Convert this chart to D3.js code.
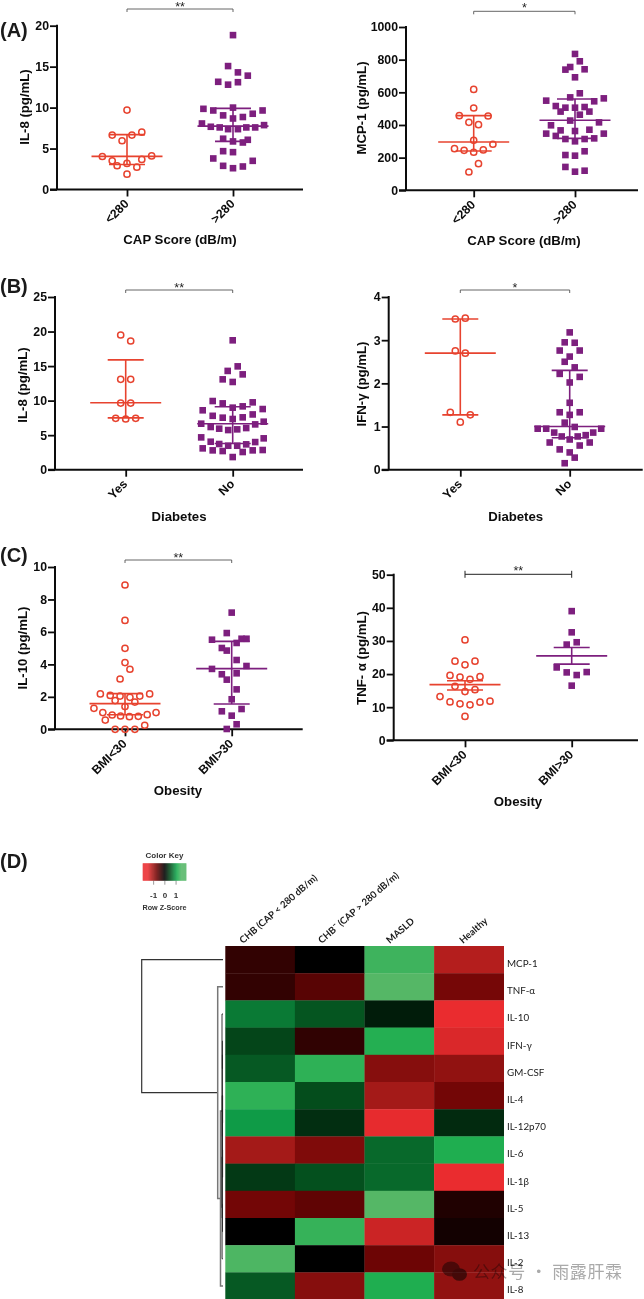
<!DOCTYPE html>
<html><head><meta charset="utf-8">
<script src="https://cdn.jsdelivr.net/npm/d3@7/dist/d3.min.js"></script>
<style>
html,body{margin:0;padding:0;background:#fff;overflow:hidden}
svg{display:block}
text{font-family:"Liberation Sans",Arial,sans-serif}
</style></head><body>
<svg id="c" width="644" height="1299"></svg>
<script>
// ---- Scatter data: measured values and swarm rank (column position within a group) ----
const capLabels=["<280",">280"], diabetesLabels=["Yes","No"], obesityLabels=["BMI<30","BMI>30"];

const il8CapLow=[9.7,6.64,6.64,7.0,5.95,4.03,4.1,3.5,3.67,3.18,2.9,2.73,1.87];
const il8CapLowRank=[0,-3,1,3,-1,-5,5,-3,3,0,-2,2,0];
const il8CapHigh=[18.85,15.07,14.3,13.9,13.15,13.1,12.8,10.0,9.85,9.65,9.65,9.25,9.05,8.85,8.67,8.06,7.86,7.66,7.58,7.37,7.37,7.58,7.58,6.2,6.07,5.87,5.74,4.68,4.56,3.79,3.5,2.89,2.81,2.6];
const il8CapHighRank=[0,-1,1,3,-3,1,-1,0,-6,-4,6,4,-2,2,0,-6.3,6.3,-4.5,-2.7,-1,1,2.7,4.5,-2,3,0,2,-2,0,-4,4,-2,2,0];
const il8CapLowStats=[3.05,4.05,6.7], il8CapHighStats=[5.87,7.74,9.9];

const mcpCapLow=[618,504,457,455,416,402,306,282,255,245,233,247,163,112];
const mcpCapLowRank=[0,0,-3,3,-1,1,0,4,-4,-2,0,2,1,-1];
const mcpCapHigh=[835,790,755,739,741,692,594,569,563,549,545,516,510,506,506,482,482,463,427,416,398,367,371,363,347,347,333,314,314,318,300,216,212,239,143,120,114];
const mcpCapHighRank=[0,1,-1,-2,2,0,1,-1,6,-6,4,-4,2,-2,0,-3,3,1,-1,5,-5,-3,3,0,-6,6,-4,-2,2,4,0,-2,0,2,-2,2,0];
const mcpCapLowStats=[241,296,457], mcpCapHighStats=[318,429,559];

const il8DiaYes=[19.5,18.63,13.08,13.08,9.65,9.65,7.43,7.34,7.43];
const il8DiaYesRank=[-1,1,-1,1,-1,1,-2,0,2];
const il8DiaNo=[18.73,14.96,14.3,13.8,13.08,12.7,9.94,9.6,9.75,8.6,8.78,8.98,9.17,7.8,7.53,7.34,7.58,8.0,6.66,6.95,6.18,5.94,5.74,5.84,6.03,6.56,4.68,4.54,4.05,4.0,3.72,3.47,3.47,3.67,3.09,2.8,2.7,2.56,2.8,2.85,1.83];
const il8DiaNoRank=[0,1,-1,2,-2,0,-4,-2,4,-6,6,0,2,-4,-2,0,2,4,-6.3,6.2,-4.4,-2.7,-0.9,0.9,2.7,4.5,-6.3,6.2,-4.4,4.5,-2.7,-0.9,0.9,2.7,-6,-4,-2,2,4,6,0];
const il8DiaYesStats=[7.5,9.7,15.9], il8DiaNoStats=[3.8,6.66,9.12];

const ifnDiaYes=[3.49,3.51,2.75,2.7,1.33,1.27,1.10];
const ifnDiaYesRank=[-1,1,-1,1,-2,2,0];
const ifnDiaNo=[3.18,2.95,2.94,2.76,2.76,2.62,2.5,2.37,2.22,2.15,2.02,1.55,1.33,1.33,1.27,1.09,0.99,0.95,0.95,0.95,0.86,0.86,0.8,0.77,0.77,0.7,0.63,0.63,0.56,0.47,0.4,0.28,0.15];
const ifnDiaNoRank=[0,-1,1,-2,2,0,-1,1,-2,2,0,0,-2,2,0,-1,1,-6.4,-4.7,6.3,4.7,-3.1,3.2,-1.6,1.6,0,-4,4,2,-2,0,1,-1];
const ifnDiaYesStats=[1.27,2.7,3.49], ifnDiaNoStats=[0.74,1.0,2.3];

const il10BmiLow=[8.89,6.71,4.99,4.11,3.7,3.1,2.18,2.18,2.09,2.05,1.97,2.05,1.77,1.68,1.4,1.29,1.03,1.03,0.88,0.9,0.82,0.78,0.8,0.57,0.25,0,0,0];
const il10BmiLowRank=[0,0,0,0,1,-1,-5,5,-3,-1,1,3,-2,2,0,-6.3,-4.5,6.3,-2.6,4.5,-0.9,0.9,2.7,-4,4,-2,0,2];
const il10BmiHigh=[7.19,5.93,5.52,5.58,5.58,5.32,5.01,4.85,4.27,3.9,3.72,3.39,3.45,3.06,2.46,1.85,1.25,1.11,0.84,0.31,0.02];
const il10BmiHighRank=[0,-1,-4,2,3,1,-2,-1,1,3,-4,-2,1,-1,1,0,2,-2,0,1,-1];
const il10BmiLowStats=[0.9,1.58,2.2], il10BmiHighStats=[1.56,3.74,5.42];

const tnfBmiLow=[30.3,23.9,23.9,22.8,19.6,19.1,19.2,18.4,16.3,14.7,15.3,13.2,11.6,11,10.7,11.5,11.8,7.2];
const tnfBmiLowRank=[0,-2,2,0,-3,-1,3,1,-2,0,2,-5,-3,-1,1,3,5,0];
const tnfBmiHigh=[39,32.6,28.9,29.6,22,20.5,19.7,20.6,16.5];
const tnfBmiHighRank=[0,0,-1,1,-3,-1,1,3,0];
const tnfBmiLowStats=[15.2,16.8,18], tnfBmiHighStats=[23,25.5,28];

// ---- Heatmap data ----
const heatColumns=["CHB (CAP < 280 dB/m)","CHB¯ (CAP > 280 dB/m)","MASLD","Healthy"];
const heatRows=["MCP-1","TNF-α","IL-10","IFN-γ","GM-CSF","IL-4","IL-12p70","IL-6","IL-1β","IL-5","IL-13","IL-2","IL-8"];
const heatZ=[
 [-0.31,0,1.35,-1.15],
 [-0.31,-0.55,1.5,-0.74],
 [0.79,0.55,0.18,-1.5],
 [0.45,-0.3,1.18,-1.4],
 [0.58,1.25,-0.85,-0.92],
 [1.25,0.5,-1.05,-0.72],
 [1.0,0.3,-1.48,0.27],
 [-1.05,-0.8,0.68,1.15],
 [0.37,0.52,0.68,-1.5],
 [-0.72,-0.6,1.5,-0.2],
 [0,1.3,-1.3,-0.12],
 [1.45,0,-0.68,-0.85],
 [0.58,-0.85,1.15,-0.92]];
const keyTicks=[-1,0,1];
// Row dendrogram: nested leaf names with merge heights
const rowTree={h:81.3,children:[{leaf:"MCP-1"},{h:5.3,children:[{leaf:"TNF-α"},{h:2.5,children:[{h:1,children:[{leaf:"IL-10"},{h:0.9,children:[{h:0.8,children:[
  {h:0.6,children:[{h:0.6,children:[{leaf:"IFN-γ"},{leaf:"GM-CSF"}]},{h:0.55,children:[{h:0.4,children:[{leaf:"IL-4"},{leaf:"IL-12p70"}]},{h:0.4,children:[{leaf:"IL-6"},{leaf:"IL-1β"}]}]}]},
  {h:0.5,children:[{leaf:"IL-5"},{leaf:"IL-13"}]}]},{leaf:"IL-2"}]}]},{leaf:"IL-8"}]}]}]};

// ---- Drawing ----
const RED="#e7432f", PUR="#7d1f7e", INK="#0c0c0c";
const svg=d3.select("#c");

const panels=[
 {x0:57,xEnd:303,yTop:25.7,yBot:189.5,cx:[127,233],max:20,tick:5,step:4.93,cats:capLabels,
  a:[il8CapLow,il8CapLowRank,il8CapLowStats],b:[il8CapHigh,il8CapHighRank,il8CapHighStats],
  yTitle:"IL-8 (pg/mL)",yTx:24,yTy:107,xTitle:"CAP Score (dB/m)",xTx:180,xTy:243.5,
  sig:"**",sigY:9,sigTick:3,sigStroke:"#555",starY:10.5},
 {x0:406,xEnd:638,yTop:27,yBot:190.3,cx:[473.7,575],max:1000,tick:200,step:4.8,cats:capLabels,
  a:[mcpCapLow,mcpCapLowRank,mcpCapLowStats],b:[mcpCapHigh,mcpCapHighRank,mcpCapHighStats],
  yTitle:"MCP-1 (pg/mL)",yTx:361,yTy:108,xTitle:"CAP Score (dB/m)",xTx:524,xTy:244.5,
  sig:"*",sigY:11.3,sigTick:3,sigStroke:"#555",starY:12},
 {x0:55,xEnd:303,yTop:297,yBot:469.7,cx:[125.7,232.7],max:25,tick:5,step:5,cats:diabetesLabels,
  a:[il8DiaYes,il8DiaYesRank,il8DiaYesStats],b:[il8DiaNo,il8DiaNoRank,il8DiaNoStats],
  yTitle:"IL-8 (pg/mL)",yTx:22,yTy:385,xTitle:"Diabetes",xTx:179,xTy:520.5,
  sig:"**",sigY:290,sigTick:3,sigStroke:"#555",starY:292},
 {x0:388.7,xEnd:642.7,yTop:297,yBot:469.7,cx:[460.3,569.7],max:4,tick:1,step:5,cats:diabetesLabels,
  a:[ifnDiaYes,ifnDiaYesRank,ifnDiaYesStats],b:[ifnDiaNo,ifnDiaNoRank,ifnDiaNoStats],
  yTitle:"IFN-γ (pg/mL)",yTx:361,yTy:384,xTitle:"Diabetes",xTx:515.7,xTy:520.5,
  sig:"*",sigY:290,sigTick:3,sigStroke:"#555",starY:292},
 {x0:55,xEnd:302.7,yTop:567,yBot:729.3,cx:[125,231.7],max:10,tick:2,step:4.93,cats:obesityLabels,
  a:[il10BmiLow,il10BmiLowRank,il10BmiLowStats],b:[il10BmiHigh,il10BmiHighRank,il10BmiHighStats],
  yTitle:"IL-10 (pg/mL)",yTx:22,yTy:648,xTitle:"Obesity",xTx:178,xTy:794.5,
  sig:"**",sigY:560,sigTick:3,sigStroke:"#555",starY:562},
 {x0:393.7,xEnd:638,yTop:574.7,yBot:740.3,cx:[465,571.7],max:50,tick:10,step:5,cats:obesityLabels,
  a:[tnfBmiLow,tnfBmiLowRank,tnfBmiLowStats],b:[tnfBmiHigh,tnfBmiHighRank,tnfBmiHighStats],
  yTitle:"TNF- α (pg/mL)",yTx:361,yTy:658,xTitle:"Obesity",xTx:518,xTy:806,
  sig:"**",sigY:574.3,sigTick:3.5,sigStroke:"#222",starY:575,sym:true}
];

panels.forEach(p=>{
  const g=svg.append("g");
  const y=d3.scaleLinear().domain([0,p.max]).range([p.yBot,p.yTop]);
  const x=d3.scaleOrdinal().domain(p.cats).range(p.cx);
  const rank=d3.scaleLinear().domain([0,1]).range([0,p.step]);

  // axes
  const yAxis=d3.axisLeft(y).tickValues(d3.range(0,p.max+1e-9,p.tick)).tickSize(7).tickPadding(1).tickSizeOuter(0).tickFormat(d3.format("d"));
  const ay=g.append("g").attr("transform",`translate(${p.x0},0)`).call(yAxis);
  const xAxis=d3.axisBottom(x).tickSize(7).tickSizeOuter(0);
  const ax=g.append("g").attr("transform",`translate(0,${p.yBot})`).call(xAxis);
  ax.select(".domain").attr("d",`M${p.x0-7},0H${p.xEnd}`);
  ay.select(".domain").attr("d",`M0,${p.yTop-1}V${p.yBot}`);
  [ax,ay].forEach(a=>{
    a.selectAll(".domain").attr("stroke",INK).attr("stroke-width",2).attr("fill","none");
    a.selectAll(".tick line").attr("stroke",INK).attr("stroke-width",1.8);
    a.selectAll("text").attr("fill",INK).attr("font-size",12.3).attr("font-weight",700)
      .style("font-family",'"Liberation Sans",Arial,sans-serif');
  });
  ax.selectAll(".tick text").attr("text-anchor","end").attr("dy",0).attr("y",0)
    .attr("transform","translate(2,15) rotate(-45)");

  // titles
  g.append("text").attr("x",p.xTx).attr("y",p.xTy).attr("text-anchor","middle")
   .attr("font-size",13.2).attr("font-weight",700).attr("fill",INK).text(p.xTitle);
  g.append("text").attr("transform",`translate(${p.yTx+4.5},${p.yTy}) rotate(-90)`).attr("text-anchor","middle")
   .attr("font-size",13.2).attr("font-weight",700).attr("fill",INK).text(p.yTitle);

  // significance bracket
  const [c0,c1]=p.cx, t=p.sigTick;
  const br=p.sym?`M${c0},${p.sigY-t}V${p.sigY+t}M${c0},${p.sigY}H${c1}M${c1},${p.sigY-t}V${p.sigY+t}`
                :`M${c0},${p.sigY+t}V${p.sigY}H${c1}V${p.sigY+t}`;
  g.append("path").attr("d",br).attr("fill","none").attr("stroke",p.sigStroke).attr("stroke-width",p.sym?1:0.9);
  g.append("text").attr("x",(c0+c1)/2).attr("y",p.starY).attr("text-anchor","middle")
   .attr("font-size",12.5).attr("font-weight",400).attr("fill","#222").text(p.sig);

  // groups
  [p.a,p.b].forEach((grp,gi)=>{
    const [vals,ranks,stats]=grp, color=gi?PUR:RED, cx=x(p.cats[gi]);
    const el=g.append("g").attr("stroke",color).attr("stroke-width",1.6).attr("fill","none");
    el.append("line").attr("x1",cx).attr("x2",cx).attr("y1",y(stats[0])).attr("y2",y(stats[2]));
    [[stats[1],35.5],[stats[0],18],[stats[2],18]].forEach(([v,hw])=>{
      el.append("line").attr("x1",cx-hw).attr("x2",cx+hw).attr("y1",y(v)).attr("y2",y(v));
    });
    const pts=vals.map((v,i)=>({v,r:ranks[i]}));
    if(gi===0){
      g.append("g").selectAll("circle").data(pts).join("circle")
       .attr("cx",d=>cx+rank(d.r)).attr("cy",d=>y(d.v)).attr("r",3.1)
       .attr("fill","none").attr("stroke",color).attr("stroke-width",1.5);
    }else{
      g.append("g").selectAll("rect").data(pts).join("rect")
       .attr("x",d=>cx+rank(d.r)-3.3).attr("y",d=>y(d.v)-3.3).attr("width",6.6).attr("height",6.6)
       .attr("fill",color);
    }
  });
});

// panel letters
[["(A)",37],["(B)",293],["(C)",562],["(D)",868]].forEach(([t,yy])=>{
  svg.append("text").attr("x",0).attr("y",yy).attr("font-size",20).attr("font-weight",700).attr("fill","#1a1a1a").text(t);
});

// ---- Heatmap ----
const hm=svg.append("g");
const HX=225.3,HR=503.7,HT=946,HB=1299.6;
const colX=d3.scaleBand().domain(heatColumns).range([HX,HR]);
const rowY=d3.scaleBand().domain(heatRows).range([HT,HB]);
const zColor=d3.scaleLinear().domain([-1.5,-1.05,-0.7,0,0.5,1,1.15,1.5])
  .range(["#ea2c2f","#a41a18","#700505","#000000","#044d1c","#0f9b47","#1fae50","#55b766"]).clamp(true);
heatRows.forEach((r,i)=>heatColumns.forEach((c,j)=>{
  hm.append("rect").attr("x",colX(c)).attr("y",rowY(r)).attr("width",colX.bandwidth()+0.3).attr("height",rowY.bandwidth()+0.3)
    .attr("fill",zColor(heatZ[i][j]));
}));
const hFont='Lato,"Open Sans",sans-serif';
heatRows.forEach(r=>{
  hm.append("text").attr("x",507).attr("y",rowY(r)+rowY.bandwidth()/2+7.3).attr("font-size",9.8)
    .style("font-family",hFont).attr("fill","#1a1a1a").text(r);
});
const colLabelShift=[-17,-8,-9.5,-6];
heatColumns.forEach((c,i)=>{
  hm.append("text").attr("transform",`translate(${colX(c)+colX.bandwidth()/2+colLabelShift[i]},${HT-2}) rotate(-41)`)
    .attr("font-size",9.6).style("font-family",hFont).attr("font-weight",700).attr("fill","#1a1a1a").text(c);
});

// Dendrogram through a hierarchy + scale
const root=d3.hierarchy(rowTree);
const dx=d3.scaleLinear().domain([0,81.3]).range([223,141.7]);
root.eachAfter(n=>{
  if(n.data.leaf){n.py=rowY(n.data.leaf)+rowY.bandwidth()/2;n.px=dx(0);}
  else{n.py=d3.mean(n.children,c=>c.py);n.px=dx(n.data.h);}
});
const dg=hm.append("g").attr("fill","none");
root.descendants().filter(n=>n.children).forEach(n=>{
  const [a,b]=n.children;
  const h=n.data.h;
  dg.append("path").attr("d",`M${a.px},${a.py}H${n.px}V${b.py}H${b.px}`)
    .attr("stroke",h>50?"#333":(h>2?"#777":"#222")).attr("stroke-width",h>50?1.2:(h>2?1.5:0.9));
});

// Colour key
const kx=d3.scaleLinear().domain([-1.93,1.93]).range([142.7,186]);
const kg=hm.append("g");
d3.range(142.7,186,0.5).forEach(px=>{
  kg.append("rect").attr("x",px).attr("y",863.3).attr("width",0.7).attr("height",17.4).attr("fill",zColor(kx.invert(px)));
});
const keyAxis=d3.axisBottom(kx).tickValues(keyTicks).tickSize(4).tickSizeOuter(0).tickPadding(8).tickFormat(d=>String(d));
const kax=kg.append("g").attr("transform","translate(0,880.7)").call(keyAxis);
kax.select(".domain").remove();
kax.selectAll("line").attr("stroke","#555").attr("stroke-width",0.6);
const kFont='"Liberation Sans Narrow","Liberation Sans",sans-serif';
kax.selectAll("text").attr("font-size",8).style("font-family",kFont).attr("fill","#333").attr("font-weight",700);
kg.append("text").attr("x",164.5).attr("y",858).attr("text-anchor","middle").attr("font-size",8).style("font-family",kFont).attr("font-weight",700).attr("fill","#333").text("Color Key");
kg.append("text").attr("x",164.5).attr("y",910).attr("text-anchor","middle").attr("font-size",7.2).style("font-family",kFont).attr("font-weight",700).attr("fill","#333").text("Row Z-Score");

// Watermark
const wm=svg.append("g").style("mix-blend-mode","multiply");
wm.append("ellipse").attr("cx",451).attr("cy",1269).attr("rx",9).attr("ry",7.5).attr("fill","#8f8f8f");
wm.append("ellipse").attr("cx",459.5).attr("cy",1274.5).attr("rx",7.5).attr("ry",6.3).attr("fill","#777");
wm.append("text").attr("x",473).attr("y",1278).attr("font-size",17).attr("letter-spacing",0.6)
  .style("font-family",'"Noto Sans CJK SC",sans-serif').attr("fill","#aaa").text("公众号 · 雨露肝霖");
</script>
</body></html>
